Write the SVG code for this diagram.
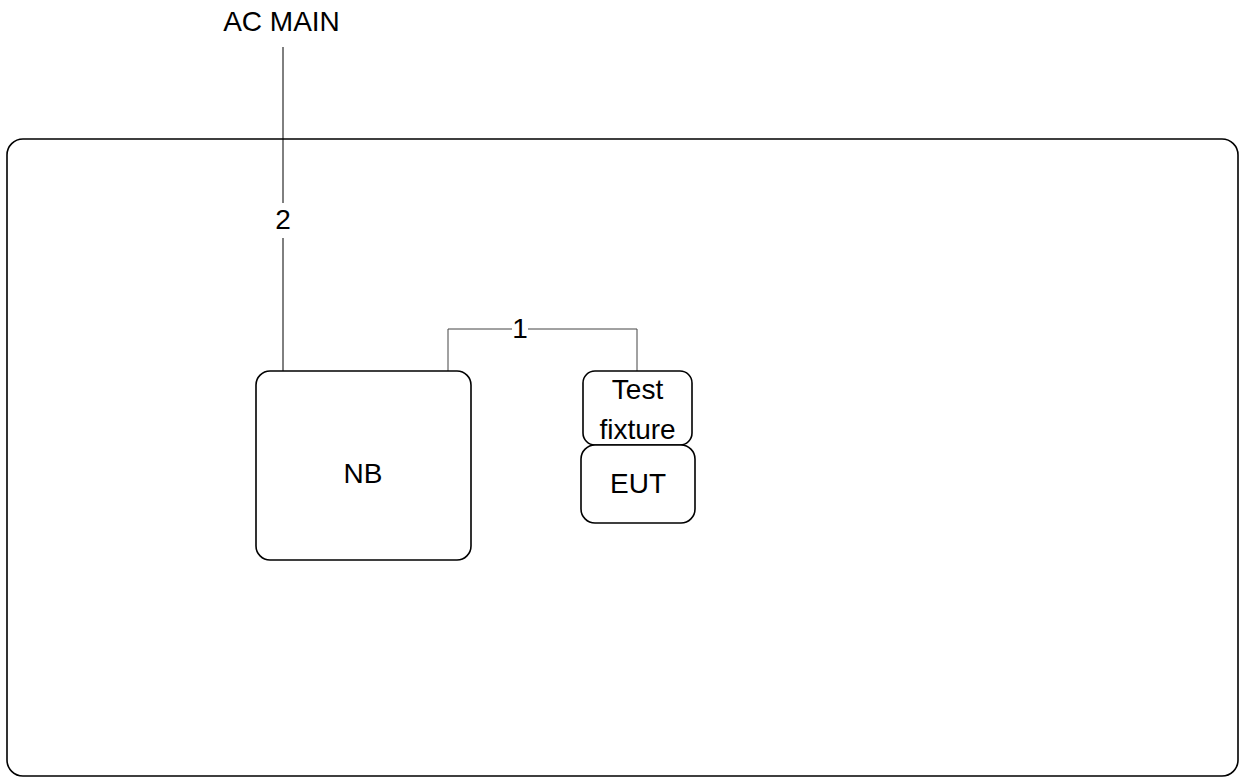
<svg xmlns="http://www.w3.org/2000/svg" width="1243" height="778" viewBox="0 0 1243 778">
<style>
.box{fill:#fff;stroke:#000;stroke-width:1.6}
.t{font-family:"Liberation Sans",Arial,sans-serif;font-size:28px;fill:#000;text-anchor:middle}
.w{fill:none;stroke:#000;stroke-width:1}
.w2{fill:none;stroke:#444;stroke-width:1}
</style>
<rect width="1243" height="778" fill="#fff"/>
<g id="room"><rect class="box" x="7" y="139" width="1231" height="637" rx="16"/></g>
<g id="connectors">
<line class="w" x1="283" y1="47" x2="283" y2="203"/>
<line class="w" x1="283" y1="238" x2="283" y2="371"/>
<text class="t" x="283" y="229">2</text>
<polyline class="w2" points="448,371 448,329 512,329"/>
<polyline class="w2" points="528,329 637,329 637,371"/>
<text class="t" x="520" y="338">1</text>
</g>
<g id="acmain"><text class="t" x="281.5" y="31">AC MAIN</text></g>
<g id="nb"><rect class="box" x="256" y="371" width="215" height="189" rx="14"/><text class="t" x="363" y="483">NB</text></g>
<g id="fixture"><rect class="box" x="583" y="371" width="109" height="74" rx="12"/><text class="t" x="637.5" y="399">Test</text><text class="t" x="637.5" y="439">fixture</text></g>
<g id="eut"><rect class="box" x="581" y="445" width="114" height="78" rx="14"/><text class="t" x="638" y="493">EUT</text></g>
</svg>
